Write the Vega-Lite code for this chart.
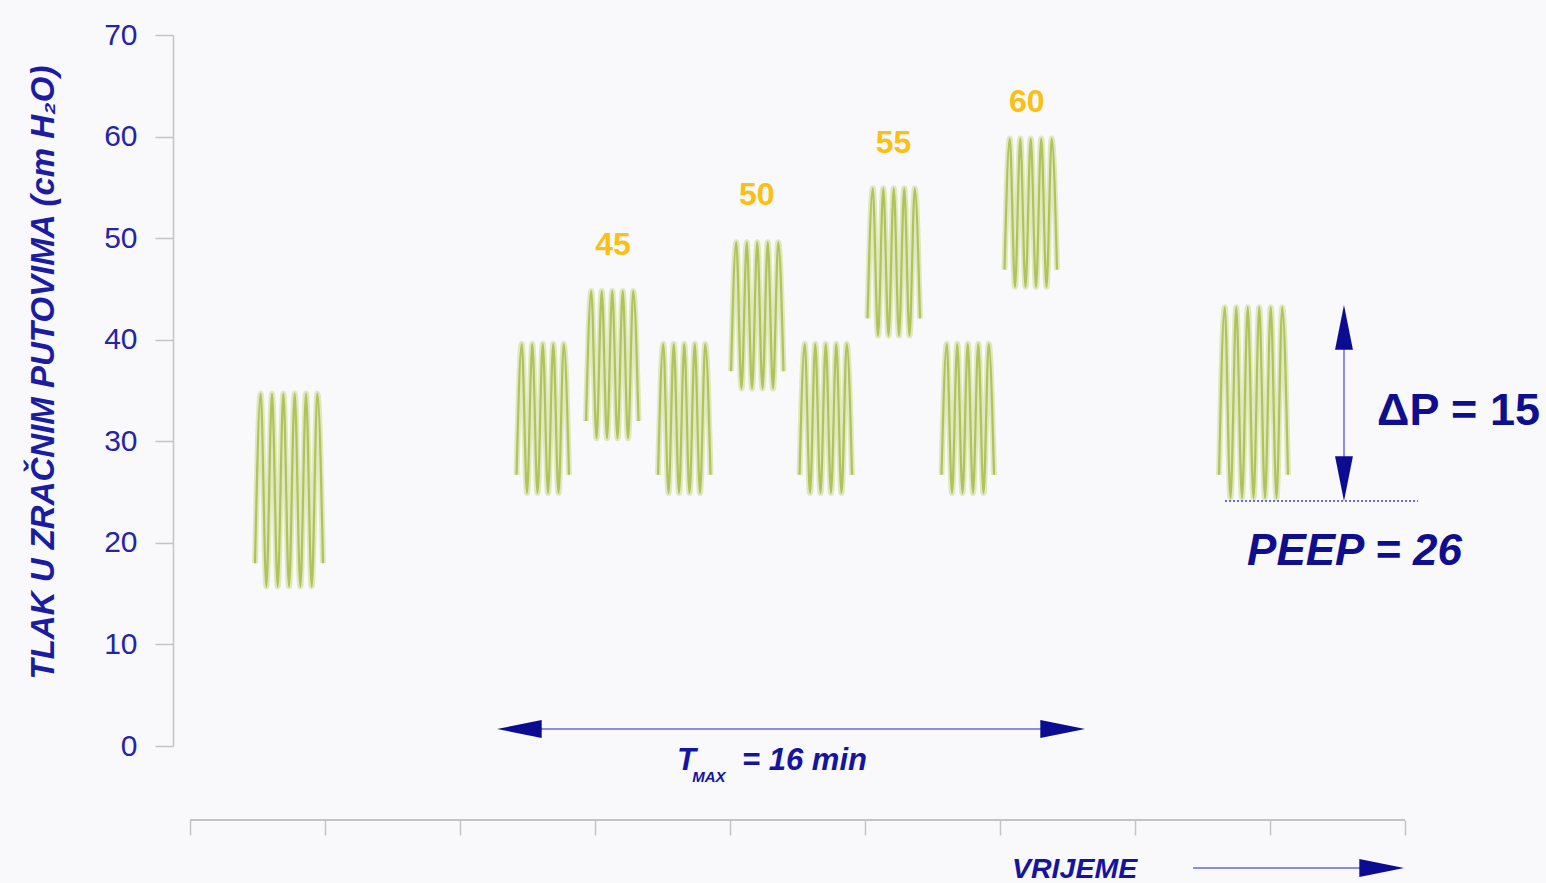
{
  "$schema": "https://vega.github.io/schema/vega-lite/v6.json",
  "autosize": "none",
  "width": 1367,
  "height": 711,
  "padding": {"left": 173, "top": 35, "right": 6, "bottom": 137},
  "background": "#f9f9fb",
  "config": {"view": {"stroke": null}},
  "datasets": {
    "waves": [
      {"b": "B1", "t": 0.4815, "p": 18.0}, {"b": "B1", "t": 0.5235, "p": 34.7}, {"b": "B1", "t": 0.5655, "p": 15.7}, {"b": "B1", "t": 0.6074, "p": 34.7}, {"b": "B1", "t": 0.6494, "p": 15.7}, {"b": "B1", "t": 0.6914, "p": 34.7}, {"b": "B1", "t": 0.7334, "p": 15.7}, {"b": "B1", "t": 0.7754, "p": 34.7}, {"b": "B1", "t": 0.8173, "p": 15.7}, {"b": "B1", "t": 0.8593, "p": 34.7}, {"b": "B1", "t": 0.9013, "p": 15.7}, {"b": "B1", "t": 0.9433, "p": 34.7}, {"b": "B1", "t": 0.9852, "p": 18.0},
      {"b": "B2", "t": 2.4185, "p": 26.7}, {"b": "B2", "t": 2.4574, "p": 39.6}, {"b": "B2", "t": 2.4963, "p": 24.9}, {"b": "B2", "t": 2.5352, "p": 39.6}, {"b": "B2", "t": 2.5741, "p": 24.9}, {"b": "B2", "t": 2.6129, "p": 39.6}, {"b": "B2", "t": 2.6518, "p": 24.9}, {"b": "B2", "t": 2.6907, "p": 39.6}, {"b": "B2", "t": 2.7296, "p": 24.9}, {"b": "B2", "t": 2.7685, "p": 39.6}, {"b": "B2", "t": 2.8074, "p": 26.7},
      {"b": "B3", "t": 2.9333, "p": 32.0}, {"b": "B3", "t": 2.9722, "p": 44.8}, {"b": "B3", "t": 3.0111, "p": 30.3}, {"b": "B3", "t": 3.0500, "p": 44.8}, {"b": "B3", "t": 3.0889, "p": 30.3}, {"b": "B3", "t": 3.1277, "p": 44.8}, {"b": "B3", "t": 3.1666, "p": 30.3}, {"b": "B3", "t": 3.2055, "p": 44.8}, {"b": "B3", "t": 3.2444, "p": 30.3}, {"b": "B3", "t": 3.2833, "p": 44.8}, {"b": "B3", "t": 3.3222, "p": 32.0},
      {"b": "B4", "t": 3.4667, "p": 26.7}, {"b": "B4", "t": 3.5056, "p": 39.6}, {"b": "B4", "t": 3.5445, "p": 24.9}, {"b": "B4", "t": 3.5834, "p": 39.6}, {"b": "B4", "t": 3.6223, "p": 24.9}, {"b": "B4", "t": 3.6611, "p": 39.6}, {"b": "B4", "t": 3.7000, "p": 24.9}, {"b": "B4", "t": 3.7389, "p": 39.6}, {"b": "B4", "t": 3.7778, "p": 24.9}, {"b": "B4", "t": 3.8167, "p": 39.6}, {"b": "B4", "t": 3.8556, "p": 26.7},
      {"b": "B5", "t": 4.0074, "p": 36.9}, {"b": "B5", "t": 4.0463, "p": 49.6}, {"b": "B5", "t": 4.0852, "p": 35.2}, {"b": "B5", "t": 4.1241, "p": 49.6}, {"b": "B5", "t": 4.1630, "p": 35.2}, {"b": "B5", "t": 4.2018, "p": 49.6}, {"b": "B5", "t": 4.2407, "p": 35.2}, {"b": "B5", "t": 4.2796, "p": 49.6}, {"b": "B5", "t": 4.3185, "p": 35.2}, {"b": "B5", "t": 4.3574, "p": 49.6}, {"b": "B5", "t": 4.3963, "p": 36.9},
      {"b": "B6", "t": 4.5148, "p": 26.7}, {"b": "B6", "t": 4.5537, "p": 39.6}, {"b": "B6", "t": 4.5926, "p": 24.9}, {"b": "B6", "t": 4.6315, "p": 39.6}, {"b": "B6", "t": 4.6704, "p": 24.9}, {"b": "B6", "t": 4.7092, "p": 39.6}, {"b": "B6", "t": 4.7481, "p": 24.9}, {"b": "B6", "t": 4.7870, "p": 39.6}, {"b": "B6", "t": 4.8259, "p": 24.9}, {"b": "B6", "t": 4.8648, "p": 39.6}, {"b": "B6", "t": 4.9037, "p": 26.7},
      {"b": "B7", "t": 5.0185, "p": 42.1}, {"b": "B7", "t": 5.0574, "p": 54.9}, {"b": "B7", "t": 5.0963, "p": 40.4}, {"b": "B7", "t": 5.1352, "p": 54.9}, {"b": "B7", "t": 5.1741, "p": 40.4}, {"b": "B7", "t": 5.2129, "p": 54.9}, {"b": "B7", "t": 5.2518, "p": 40.4}, {"b": "B7", "t": 5.2907, "p": 54.9}, {"b": "B7", "t": 5.3296, "p": 40.4}, {"b": "B7", "t": 5.3685, "p": 54.9}, {"b": "B7", "t": 5.4074, "p": 42.1},
      {"b": "B8", "t": 5.5667, "p": 26.7}, {"b": "B8", "t": 5.6056, "p": 39.6}, {"b": "B8", "t": 5.6445, "p": 24.9}, {"b": "B8", "t": 5.6834, "p": 39.6}, {"b": "B8", "t": 5.7223, "p": 24.9}, {"b": "B8", "t": 5.7611, "p": 39.6}, {"b": "B8", "t": 5.8000, "p": 24.9}, {"b": "B8", "t": 5.8389, "p": 39.6}, {"b": "B8", "t": 5.8778, "p": 24.9}, {"b": "B8", "t": 5.9167, "p": 39.6}, {"b": "B8", "t": 5.9556, "p": 26.7},
      {"b": "B9", "t": 6.0333, "p": 46.9}, {"b": "B9", "t": 6.0722, "p": 59.8}, {"b": "B9", "t": 6.1111, "p": 45.2}, {"b": "B9", "t": 6.1500, "p": 59.8}, {"b": "B9", "t": 6.1889, "p": 45.2}, {"b": "B9", "t": 6.2277, "p": 59.8}, {"b": "B9", "t": 6.2666, "p": 45.2}, {"b": "B9", "t": 6.3055, "p": 59.8}, {"b": "B9", "t": 6.3444, "p": 45.2}, {"b": "B9", "t": 6.3833, "p": 59.8}, {"b": "B9", "t": 6.4222, "p": 46.9},
      {"b": "B10", "t": 7.6222, "p": 26.7}, {"b": "B10", "t": 7.6648, "p": 43.2}, {"b": "B10", "t": 7.7074, "p": 24.4}, {"b": "B10", "t": 7.7500, "p": 43.2}, {"b": "B10", "t": 7.7926, "p": 24.4}, {"b": "B10", "t": 7.8352, "p": 43.2}, {"b": "B10", "t": 7.8778, "p": 24.4}, {"b": "B10", "t": 7.9203, "p": 43.2}, {"b": "B10", "t": 7.9629, "p": 24.4}, {"b": "B10", "t": 8.0055, "p": 43.2}, {"b": "B10", "t": 8.0481, "p": 24.4}, {"b": "B10", "t": 8.0907, "p": 43.2}, {"b": "B10", "t": 8.1333, "p": 26.7}
    ],
    "peaks": [
      {"t": 3.133, "p": 48.34, "label": "45"},
      {"t": 4.198, "p": 53.26, "label": "50"},
      {"t": 5.211, "p": 58.38, "label": "55"},
      {"t": 6.198, "p": 62.42, "label": "60"}
    ],
    "hlines": [
      {"name": "vrijeme-os", "t": 0, "t2": 9, "p": -7.29}
    ],
    "shafts": [
      {"name": "tmax", "t": 2.33, "t2": 6.58, "p": 1.674},
      {"name": "vrijeme", "t": 7.43, "t2": 8.95, "p": -12.01}
    ],
    "vshafts": [
      {"name": "deltaP", "t": 8.548, "p": 43.0, "p2": 24.5}
    ],
    "peep": [
      {"t": 7.667, "t2": 9.096, "p": 24.12}
    ],
    "heads": [
      {"t": 8.548, "p": 43.42, "dir": "up"},
      {"t": 8.548, "p": 24.12, "dir": "down"},
      {"t": 2.274, "p": 1.674, "dir": "left"},
      {"t": 6.630, "p": 1.674, "dir": "right"},
      {"t": 8.993, "p": -12.01, "dir": "right"}
    ],
    "dp": [{"t": 8.793, "p": 31.6, "label": "ΔP = 15"}],
    "peeptext": [{"t": 7.83, "p": 17.82, "label": "PEEP = 26"}],
    "itext": [
      {"t": 3.607, "p": -2.363, "label": "T"},
      {"t": 4.089, "p": -2.363, "label": "= 16 min"}
    ],
    "vrijeme": [{"t": 6.089, "p": -12.95, "label": "VRIJEME"}],
    "sub": [{"t": 3.72, "p": -3.544, "label": "MAX"}]
  },
  "encoding": {
    "x": {
      "field": "t", "type": "quantitative",
      "scale": {"domain": [-0.126, 10.0], "nice": false, "zero": false},
      "axis": {
        "orient": "bottom", "offset": 74, "values": [0, 1, 2, 3, 4, 5, 6, 7, 8, 9],
        "labels": false, "domain": false, "grid": false, "title": null,
        "tickSize": 15, "tickColor": "#c4c4c4", "tickWidth": 1.5
      }
    },
    "y": {
      "field": "p", "type": "quantitative",
      "scale": {"domain": [0, 70], "nice": false, "zero": false},
      "axis": {
        "values": [0, 10, 20, 30, 40, 50, 60, 70], "grid": false,
        "title": "TLAK U ZRAČNIM PUTOVIMA (cm H₂O)",
        "titleFont": "Liberation Sans, DejaVu Sans, sans-serif", "titleFontStyle": "italic", "titleFontWeight": "bold",
        "titleFontSize": 33, "titleColor": "#1c1ca2",
        "titleX": -120, "titleY": 337, "titleAngle": -90, "titleBaseline": "alphabetic", "titleAlign": "center",
        "labelFont": "Liberation Sans", "labelFontSize": 30, "labelColor": "#2424a8", "labelPadding": 18,
        "tickSize": 18, "tickColor": "#c4c4c4", "tickWidth": 1.5,
        "domainColor": "#c4c4c4", "domainWidth": 1.5
      }
    }
  },
  "layer": [
    {
      "data": {"name": "waves"},
      "mark": {"type": "line", "interpolate": "monotone", "color": "#e0e8bf", "strokeWidth": 6},
      "encoding": {"detail": {"field": "b", "type": "nominal"}}
    },
    {
      "data": {"name": "waves"},
      "mark": {"type": "line", "interpolate": "monotone", "color": "#b0c25a", "strokeWidth": 2.2},
      "encoding": {"detail": {"field": "b", "type": "nominal"}}
    },
    {
      "data": {"name": "hlines"},
      "mark": {"type": "rule", "color": "#c4c4c4", "strokeWidth": 2},
      "encoding": {"x2": {"field": "t2"}}
    },
    {
      "data": {"name": "shafts"},
      "mark": {"type": "rule", "color": "#8c8ce2", "strokeWidth": 2},
      "encoding": {"x2": {"field": "t2"}}
    },
    {
      "data": {"name": "vshafts"},
      "mark": {"type": "rule", "color": "#8c8ce2", "strokeWidth": 2},
      "encoding": {"y2": {"field": "p2"}}
    },
    {
      "data": {"name": "peep"},
      "mark": {"type": "rule", "color": "#6a6ad2", "strokeWidth": 2, "strokeDash": [2, 2]},
      "encoding": {"x2": {"field": "t2"}}
    },
    {
      "data": {"name": "heads"},
      "mark": {"type": "point", "filled": true, "opacity": 1, "size": 2000, "color": "#0c0c92", "strokeWidth": 0},
      "encoding": {
        "shape": {
          "field": "dir", "type": "nominal", "legend": null,
          "scale": {
            "domain": ["up", "down", "left", "right"],
            "range": ["M0,0L0.4,2L-0.4,2Z", "M0,0L0.4,-2L-0.4,-2Z", "M0,0L2,-0.4L2,0.4Z", "M0,0L-2,-0.4L-2,0.4Z"]
          }
        }
      }
    },
    {
      "data": {"name": "peaks"},
      "mark": {"type": "text", "font": "Liberation Sans", "fontWeight": "bold", "fontSize": 32, "color": "#fcbf12", "align": "center", "baseline": "alphabetic"},
      "encoding": {"text": {"field": "label"}}
    },
    {
      "data": {"name": "dp"},
      "mark": {"type": "text", "font": "Liberation Sans", "fontWeight": "bold", "fontSize": 45, "color": "#0e0e8e", "align": "left", "baseline": "alphabetic"},
      "encoding": {"text": {"field": "label"}}
    },
    {
      "data": {"name": "peeptext"},
      "mark": {"type": "text", "font": "Liberation Sans", "fontWeight": "bold", "fontStyle": "italic", "fontSize": 44, "color": "#0e0e8e", "align": "left", "baseline": "alphabetic"},
      "encoding": {"text": {"field": "label"}}
    },
    {
      "data": {"name": "itext"},
      "mark": {"type": "text", "font": "Liberation Sans", "fontWeight": "bold", "fontStyle": "italic", "fontSize": 31, "color": "#1414a0", "align": "left", "baseline": "alphabetic"},
      "encoding": {"text": {"field": "label"}}
    },
    {
      "data": {"name": "vrijeme"},
      "mark": {"type": "text", "font": "Liberation Sans", "fontWeight": "bold", "fontStyle": "italic", "fontSize": 28.5, "color": "#1414a0", "align": "left", "baseline": "alphabetic"},
      "encoding": {"text": {"field": "label"}}
    },
    {
      "data": {"name": "sub"},
      "mark": {"type": "text", "font": "Liberation Sans", "fontWeight": "bold", "fontStyle": "italic", "fontSize": 15, "color": "#1414a0", "align": "left", "baseline": "alphabetic"},
      "encoding": {"text": {"field": "label"}}
    }
  ]
}
